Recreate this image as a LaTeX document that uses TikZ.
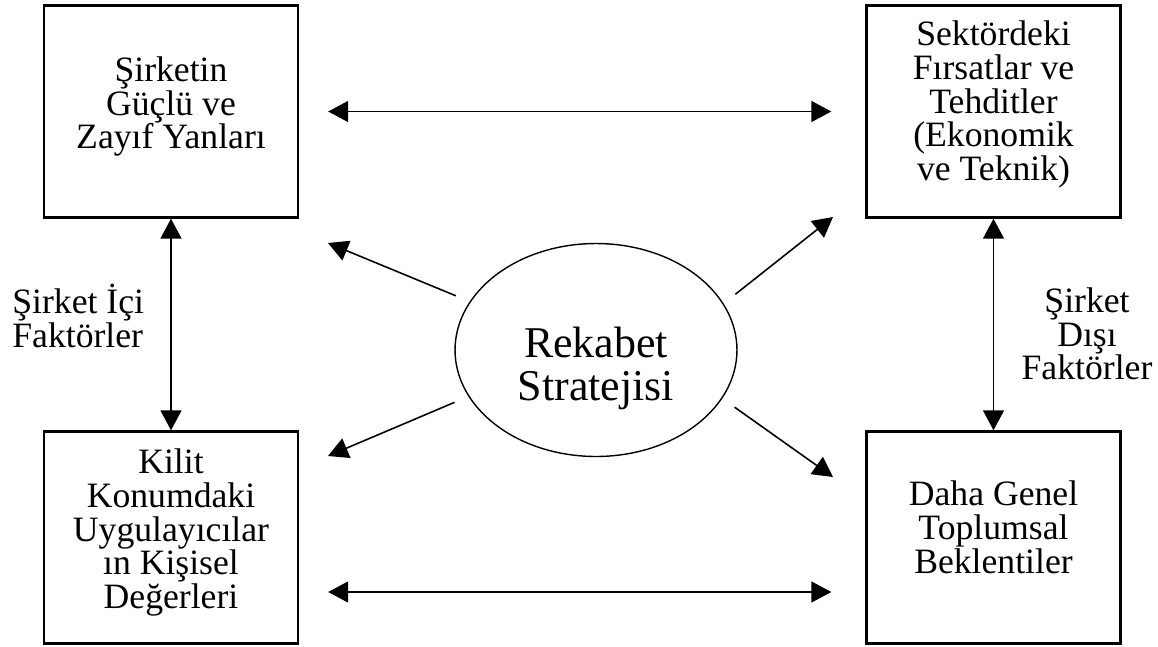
\documentclass[tikz,border=0pt]{standalone}
\usepackage{fontspec}
\setmainfont{Liberation Serif}
\usetikzlibrary{arrows.meta,shapes.geometric}

\tikzset{
  kutu/.style={draw, line width=1.4pt, minimum width=5.08cm, minimum height=4.24cm, inner sep=0pt},
  yazi/.style={inner sep=0pt, align=center, font=\fontsize{20.3}{19.2}\selectfont},
  ok/.style={line width=0.9pt, -{Triangle[length=0.4cm,width=0.42cm]}},
  ciftok/.style={line width=0.9pt, {Triangle[length=0.4cm,width=0.42cm]}-{Triangle[length=0.4cm,width=0.42cm]}},
}

\begin{document}
\begin{tikzpicture}[x=0.02cm, y=-0.02cm]
\useasboundingbox (0,0) rectangle (1158,646);
%
\node[kutu] (guclu) at (171,111.5) {};
\node[kutu] (firsat) at (993.5,111.5) {};
\node[kutu] (kilit) at (171,537.5) {};
\node[kutu] (beklenti) at (993.5,537.5) {};
\node[draw, ellipse, line width=0.8pt, minimum width=5.64cm, minimum height=4.26cm, inner sep=0pt] (strateji) at (596,350) {};
%
\node[yazi] (guclu-yazi) at ([yshift=0.1cm]guclu) {Şirketin\\Güçlü ve\\Zayıf Yanları};
\node[yazi] (firsat-yazi) at ([yshift=0.14cm]firsat) {Sektördeki\\Fırsatlar ve\\Tehditler\\(Ekonomik\\ve Teknik)};
\node[yazi] (kilit-yazi) at ([yshift=0.1cm]kilit) {Kilit\\Konumdaki\\Uygulayıcılar\\ın Kişisel\\Değerleri};
\node[yazi] (beklenti-yazi) at ([yshift=0.2cm]beklenti) {Daha Genel\\Toplumsal\\Beklentiler};
\node[inner sep=0pt, align=center, font=\fontsize{25}{24.5}\selectfont] (strateji-yazi) at ([yshift=-0.36cm]strateji) {Rekabet\\Stratejisi};
%
\node[yazi, align=left, anchor=west] (ic) at (12,316) {Şirket İçi\\Faktörler};
\node[yazi] (dis) at (1087,334) {Şirket\\Dışı\\Faktörler};
%
\coordinate (guclu-uc) at (328,243);
\coordinate (firsat-uc) at (833,217);
\coordinate (kilit-uc) at (328,456);
\coordinate (beklenti-uc) at (833,477);
%
\draw[ciftok, shorten <=0.58cm, shorten >=0.68cm] (guclu) -- (firsat);
\draw[ciftok, shorten <=0.58cm, shorten >=0.68cm] ([yshift=-1.09cm]kilit.east) -- ([yshift=-1.09cm]beklenti.west);
\draw[ciftok] (guclu) -- (kilit);
\draw[ciftok] (firsat) -- (beklenti);
%
\draw[ok, shorten <=0.3cm] (strateji.159.4) -- (guclu-uc);
\draw[ok, shorten <=0.3cm] (strateji.20.6) -- (firsat-uc);
\draw[ok, shorten <=0.3cm] (strateji.200.6) -- (kilit-uc);
\draw[ok, shorten <=0.3cm] (strateji.339.4) -- (beklenti-uc);
\end{tikzpicture}
\end{document}
